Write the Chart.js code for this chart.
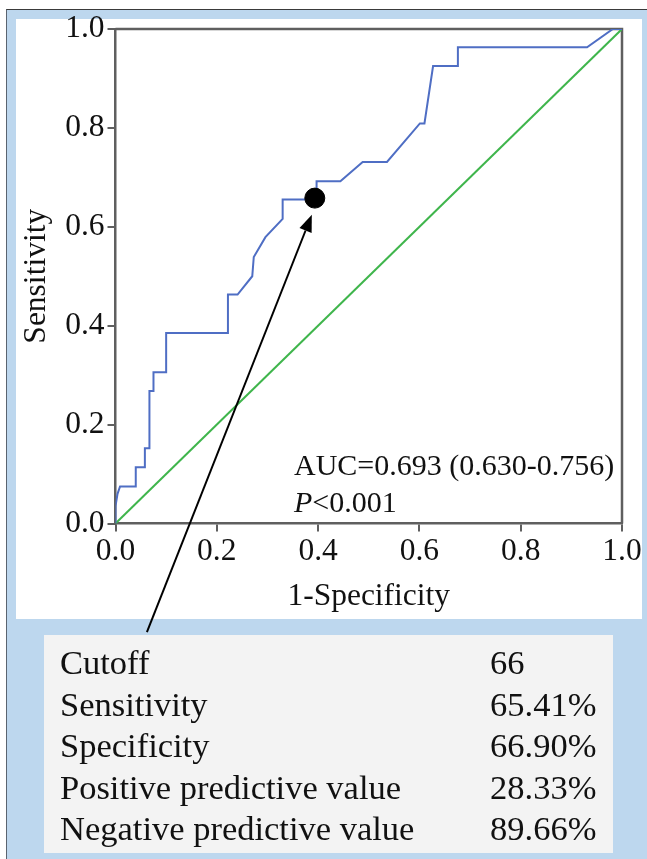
<!DOCTYPE html>
<html><head><meta charset="utf-8">
<script src="https://cdn.jsdelivr.net/npm/chart.js@4.4.0/dist/chart.umd.min.js"></script>
<style>
html,body{margin:0;padding:0;background:#fff;width:647px;height:859px;overflow:hidden;font-family:'Liberation Serif','Times New Roman',serif;}
#frame{position:absolute;left:6px;top:9px;width:645px;height:852px;background:#bdd7ee;border-top:1.5px solid #3a3a3a;border-left:1.5px solid #5a6470;box-sizing:border-box}
#panel{position:absolute;left:16px;top:19px;width:626px;height:600px;background:#fff}
#tbl{position:absolute;left:44px;top:635px;width:569px;height:218px;background:#f3f3f3}
.t{position:absolute;font-size:34.5px;line-height:1;color:#111;white-space:nowrap}
.a{position:absolute;font-size:30px;line-height:1;color:#111;white-space:nowrap}
canvas{position:absolute;left:0;top:0}
</style></head>
<body>
<div id="frame"></div>
<div id="panel"></div>
<div id="tbl"></div>
<canvas id="c" width="647" height="859"></canvas>
<div id="texts"></div>
<script>
// ROC curve (1-Specificity, Sensitivity)
const rocX = [0, 0, 0.004, 0.009, 0.040, 0.040, 0.058, 0.058, 0.067, 0.067, 0.075, 0.075, 0.100, 0.100, 0.222, 0.222, 0.241, 0.270, 0.273, 0.296, 0.330, 0.330, 0.397, 0.397, 0.444, 0.488, 0.536, 0.601, 0.610, 0.627, 0.676, 0.676, 0.931, 0.982, 1.0];
const rocY = [0, 0.035, 0.060, 0.075, 0.075, 0.114, 0.114, 0.152, 0.152, 0.268, 0.268, 0.306, 0.306, 0.385, 0.385, 0.463, 0.463, 0.500, 0.539, 0.579, 0.616, 0.655, 0.655, 0.692, 0.692, 0.731, 0.731, 0.809, 0.809, 0.925, 0.925, 0.963, 0.963, 1.0, 1.0];
const refX = [0, 1];
const refY = [0, 1];
const cutoffPoint = [0.3935, 0.658];
const arrowFrom = [0.062, -0.2196];
const arrowTo = [0.3876, 0.6245];
const tickValues = [0, 0.2, 0.4, 0.6, 0.8, 1.0];
const xTitle = '1-Specificity';
const yTitle = 'Sensitivity';
const aucText = 'AUC=0.693 (0.630-0.756)';
const pText = '<0.001';
const tableLabels = ['Cutoff', 'Sensitivity', 'Specificity', 'Positive predictive value', 'Negative predictive value'];
const tableValues = ['66', '65.41%', '66.90%', '28.33%', '89.66%'];

const texts = document.getElementById('texts');
const baselines = [674, 715.5, 757, 798.5, 840];
tableLabels.forEach((l, i) => {
  const d = document.createElement('div'); d.className = 't';
  d.style.left = '60px'; d.style.top = (baselines[i] - 28.9) + 'px'; d.textContent = l; texts.appendChild(d);
  const v = document.createElement('div'); v.className = 't';
  v.style.left = '490px'; v.style.top = (baselines[i] - 28.9) + 'px'; v.textContent = tableValues[i]; texts.appendChild(v);
});
const a1 = document.createElement('div'); a1.className = 'a'; a1.style.left = '294px'; a1.style.top = (475 - 25.1) + 'px'; a1.textContent = aucText; texts.appendChild(a1);
const a2 = document.createElement('div'); a2.className = 'a'; a2.style.left = '294px'; a2.style.top = (512 - 25.1) + 'px';
const ip = document.createElement('i'); ip.textContent = 'P'; a2.appendChild(ip); a2.appendChild(document.createTextNode(pText)); texts.appendChild(a2);

const FONT = "'Liberation Serif','Times New Roman',serif";
const frameColor = '#5f5f5f';

const framePlugin = {
  id: 'frame',
  beforeDatasetsDraw(chart) {
    const {ctx, chartArea: a} = chart;
    ctx.save();
    ctx.strokeStyle = frameColor; ctx.lineWidth = 2.5;
    ctx.beginPath();
    ctx.moveTo(a.left, a.top); ctx.lineTo(a.right, a.top); ctx.lineTo(a.right, a.bottom);
    ctx.stroke();
    ctx.restore();
  },
  afterDatasetsDraw(chart) {
    const {ctx, scales: {x, y}} = chart;
    const x0 = x.getPixelForValue(arrowFrom[0]), y0 = y.getPixelForValue(arrowFrom[1]);
    const x1 = x.getPixelForValue(arrowTo[0]), y1 = y.getPixelForValue(arrowTo[1]);
    const ang = Math.atan2(y1 - y0, x1 - x0);
    const hl = 17, hw = 6.5;
    const bx = x1 - hl * Math.cos(ang), by = y1 - hl * Math.sin(ang);
    ctx.save();
    ctx.strokeStyle = '#000'; ctx.fillStyle = '#000'; ctx.lineWidth = 2;
    ctx.beginPath(); ctx.moveTo(x0, y0); ctx.lineTo(bx, by); ctx.stroke();
    ctx.beginPath();
    ctx.moveTo(x1, y1);
    ctx.lineTo(bx + hw * Math.sin(ang), by - hw * Math.cos(ang));
    ctx.lineTo(bx - hw * Math.sin(ang), by + hw * Math.cos(ang));
    ctx.closePath(); ctx.fill();
    ctx.restore();
  }
};

const axisCommon = {
  type: 'linear', min: 0, max: 1,
  grid: {display: true, drawOnChartArea: false, drawTicks: true, tickLength: 8, color: frameColor, lineWidth: 2},
  border: {display: true, color: frameColor, width: 2.5},
  afterBuildTicks(scale) { scale.ticks = tickValues.map(v => ({value: v})); }
};

new Chart(document.getElementById('c'), {
  type: 'scatter',
  data: {
    datasets: [
      {data: [{x: cutoffPoint[0], y: cutoffPoint[1]}], pointRadius: 10, pointBackgroundColor: '#000', pointBorderColor: '#000', order: 0},
      {data: rocX.map((v, i) => ({x: v, y: rocY[i]})), showLine: true, borderColor: '#4f6ec4', borderWidth: 2, pointRadius: 0, tension: 0, order: 1},
      {data: refX.map((v, i) => ({x: v, y: refY[i]})), showLine: true, borderColor: '#3fb54c', borderWidth: 2, pointRadius: 0, tension: 0, order: 2}
    ]
  },
  options: {
    responsive: false, animation: false, devicePixelRatio: 1,
    layout: {padding: {left: 0, top: 29, right: 25, bottom: 235.5}},
    plugins: {legend: {display: false}, tooltip: {enabled: false}},
    scales: {
      x: Object.assign({}, axisCommon, {
        position: 'bottom',
        ticks: {color: '#111', font: {family: FONT, size: 31.5}, padding: 1, maxRotation: 0, callback: v => Number(v).toFixed(1)},
        title: {display: true, text: xTitle, color: '#111', font: {family: FONT, size: 31.5, lineHeight: 1}, padding: {top: 0, bottom: 10.75}},
        afterFit(s) { s.height = 100; }
      }),
      y: Object.assign({}, axisCommon, {
        position: 'left',
        ticks: {color: '#111', font: {family: FONT, size: 31.5}, padding: 3, callback: v => Number(v).toFixed(1)},
        title: {display: true, text: yTitle, color: '#111', font: {family: FONT, size: 31.5, lineHeight: 1}, padding: {top: 21.25, bottom: 0}},
        afterFit(s) { s.width = 115.5; }
      })
    }
  },
  plugins: [framePlugin]
});
</script>
</body></html>
